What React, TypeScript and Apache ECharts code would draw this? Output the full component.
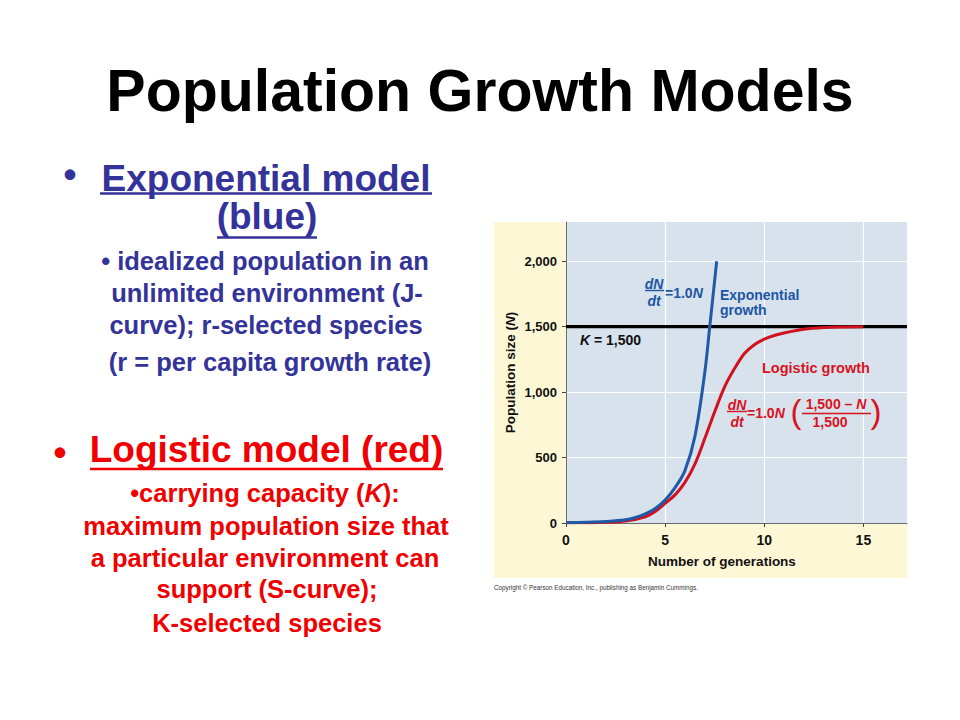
import React, { useEffect, useRef } from "react";
import * as echarts from "echarts";

// ---------- data ----------
const expT = [0, 1, 2, 3, 3.5, 4, 4.5, 5, 5.5, 6, 6.5, 7, 7.25, 7.6];
const expN = [2, 5, 11, 24, 42, 70, 110, 175, 270, 400, 660, 1150, 1500, 2000];
const logT = [0, 1, 2, 3, 4, 4.5, 5, 5.5, 6, 6.5, 7, 7.5, 8, 8.5, 9, 9.5, 10, 10.5, 11, 12, 13, 14, 15];
const logN = [1, 2, 5, 15, 48, 88, 150, 215, 310, 450, 645, 850, 1040, 1180, 1295, 1362, 1405, 1433, 1452, 1480, 1493, 1498, 1500];
const capacityK = 1500;
const xTicks = [0, 5, 10, 15];
const yTicks = [0, 500, 1000, 1500, 2000];

const titleText = "Population Growth Models";
const expHeading = ["Exponential model", "(blue)"];
const expLines = [
  "• idealized population in an",
  "unlimited environment (J-",
  "curve); r-selected species",
  "(r = per capita growth rate)",
];
const logHeading = "Logistic model (red)";
const logLines = [
  "•carrying capacity ({i|K}):",
  "maximum population size that",
  "a particular environment can",
  "support (S-curve);",
  "K-selected species",
];
const copyrightText = "Copyright © Pearson Education, Inc., publishing as Benjamin Cummings.";

const F = "'Liberation Sans', Arial, Helvetica, sans-serif";
const SLIDE_BLUE = "#333399";
const SLIDE_RED = "#f00000";
const CURVE_BLUE = "#1f5aa8";
const CURVE_RED = "#d1121e";
const LABEL_BLUE = "#1d56a4";
const LABEL_RED = "#d7131f";

function richItalic(size: number, color: string) {
  return {
    i: { fontStyle: "italic", fontWeight: "bold", fontSize: size, fontFamily: F, fill: color },
  };
}

function txt(x: number, y: number, text: string, size: number, color: string, opts: any = {}) {
  return {
    type: "text",
    x,
    y,
    z: 20,
    style: {
      text,
      fontSize: size,
      fontWeight: opts.weight || "bold",
      fontStyle: opts.style || "normal",
      fontFamily: F,
      fill: color,
      align: opts.align || "center",
      verticalAlign: "middle",
      rich: richItalic(size, color),
    },
  };
}

function hline(x1: number, x2: number, y: number, color: string, w: number) {
  return {
    type: "line",
    z: 20,
    shape: { x1, y1: y, x2, y2: y },
    style: { stroke: color, lineWidth: w },
  };
}

export default function App() {
  const ref = useRef<HTMLDivElement>(null);

  useEffect(() => {
    if (!ref.current) return;
    const chart = echarts.init(ref.current, undefined, { renderer: "svg" });

    const graphics: any[] = [
      // yellow figure panel
      {
        type: "rect",
        z: -10,
        shape: { x: 494, y: 222, width: 413, height: 356 },
        style: { fill: "#fdf7d6" },
      },
      // title
      txt(480, 91, titleText, 59, "#000000"),
      // exponential heading
      txt(70, 174, "•", 37, SLIDE_BLUE),
      txt(266, 178, expHeading[0], 37, SLIDE_BLUE),
      hline(100, 432, 193.5, SLIDE_BLUE, 2.6),
      txt(267, 216, expHeading[1], 37, SLIDE_BLUE),
      hline(217, 317, 237.5, SLIDE_BLUE, 2.6),
      txt(265, 261, expLines[0], 25.5, SLIDE_BLUE),
      txt(267, 293, expLines[1], 25.5, SLIDE_BLUE),
      txt(266, 325, expLines[2], 25.5, SLIDE_BLUE),
      txt(270, 362, expLines[3], 25.5, SLIDE_BLUE),
      // logistic heading
      txt(60, 452, "•", 37, SLIDE_RED),
      txt(266.5, 449, logHeading, 37, SLIDE_RED),
      hline(90, 443, 469, SLIDE_RED, 2.6),
      txt(265, 493, logLines[0], 25.5, SLIDE_RED),
      txt(266, 526, logLines[1], 25.5, SLIDE_RED),
      txt(265, 558, logLines[2], 25.5, SLIDE_RED),
      txt(267, 589, logLines[3], 25.5, SLIDE_RED),
      txt(267, 623, logLines[4], 25.5, SLIDE_RED),
      // chart annotations
      txt(580, 340, "{i|K} = 1,500", 14, "#111111", { align: "left" }),
      txt(654, 284, "dN", 14, LABEL_BLUE, { style: "italic" }),
      hline(645, 664, 290.5, LABEL_BLUE, 1.4),
      txt(654, 301, "dt", 14, LABEL_BLUE, { style: "italic" }),
      txt(665, 293, "=1.0{i|N}", 14, LABEL_BLUE, { align: "left" }),
      txt(720, 295, "Exponential", 14, LABEL_BLUE, { align: "left" }),
      txt(720, 309.5, "growth", 14, LABEL_BLUE, { align: "left" }),
      txt(762, 367.5, "Logistic growth", 14.5, LABEL_RED, { align: "left" }),
      txt(737, 405, "dN", 14, LABEL_RED, { style: "italic" }),
      hline(727, 747, 411.5, LABEL_RED, 1.4),
      txt(737, 422, "dt", 14, LABEL_RED, { style: "italic" }),
      txt(747, 413, "=1.0{i|N}", 14, LABEL_RED, { align: "left" }),
      txt(796, 411, "(", 33, LABEL_RED, { weight: "normal" }),
      txt(836, 404, "1,500 – {i|N}", 14, LABEL_RED),
      hline(802, 871, 413.5, LABEL_RED, 1.4),
      txt(830, 422, "1,500", 14, LABEL_RED),
      txt(876, 411, ")", 33, LABEL_RED, { weight: "normal" }),
      // copyright
      {
        type: "text",
        x: 494,
        y: 587,
        z: 20,
        style: {
          text: copyrightText,
          fontSize: 6.3,
          fontFamily: F,
          fill: "#333333",
          align: "left",
          verticalAlign: "middle",
        },
      },
    ];

    const option: any = {
      animation: false,
      backgroundColor: "#ffffff",
      grid: {
        left: 566,
        top: 222,
        width: 341,
        height: 301,
        show: true,
        backgroundColor: "#d7e2ec",
        borderWidth: 0,
      },
      xAxis: {
        type: "value",
        min: 0,
        max: 17.2,
        interval: 5,
        name: "Number of generations",
        nameLocation: "middle",
        nameGap: 31,
        nameTextStyle: {
          fontSize: 13.5,
          fontWeight: "bold",
          fontFamily: F,
          color: "#111111",
          padding: [0, 29, 0, 0],
        },
        axisLine: { show: true, onZero: false, lineStyle: { color: "#6b6b6b", width: 1 } },
        axisTick: { show: true, length: 4, customValues: xTicks, lineStyle: { color: "#444444" } },
        axisLabel: {
          customValues: xTicks,
          fontSize: 14,
          fontWeight: "bold",
          fontFamily: F,
          color: "#111111",
          margin: 10,
        },
        splitLine: { show: true, lineStyle: { color: "#ffffff", width: 1.2 } },
      },
      yAxis: {
        type: "value",
        min: 0,
        max: 2300,
        interval: 500,
        name: "Population size ({i|N})",
        nameLocation: "middle",
        nameGap: 49,
        nameTextStyle: {
          fontSize: 13.5,
          fontWeight: "bold",
          fontFamily: F,
          color: "#111111",
          rich: { i: { fontStyle: "italic", fontWeight: "bold", fontSize: 13.5, fontFamily: F, color: "#111111" } },
        },
        axisLine: { show: true, onZero: false, lineStyle: { color: "#6b6b6b", width: 1 } },
        axisTick: { show: true, length: 4, customValues: yTicks, lineStyle: { color: "#444444" } },
        axisLabel: {
          customValues: yTicks,
          fontSize: 13,
          fontWeight: "bold",
          fontFamily: F,
          color: "#111111",
          margin: 9,
          formatter: (v: number) => v.toLocaleString("en-US"),
        },
        splitLine: { show: true, lineStyle: { color: "#ffffff", width: 1.2 } },
      },
      series: [
        {
          name: "K",
          type: "line",
          data: [[0, capacityK], [17.2, capacityK]],
          showSymbol: false,
          lineStyle: { color: "#000000", width: 3.2 },
          z: 2,
          silent: true,
        },
        {
          name: "Logistic growth",
          type: "line",
          data: logT.map((t, i) => [t, logN[i]]),
          smooth: 0.35,
          showSymbol: false,
          lineStyle: { color: CURVE_RED, width: 3 },
          z: 3,
        },
        {
          name: "Exponential growth",
          type: "line",
          data: expT.map((t, i) => [t, expN[i]]),
          smooth: 0.35,
          showSymbol: false,
          lineStyle: { color: CURVE_BLUE, width: 3 },
          z: 4,
        },
      ],
      graphic: { elements: graphics },
    };

    chart.setOption(option);
    return () => chart.dispose();
  }, []);

  return (
    <div
      ref={ref}
      style={{ position: "absolute", left: 0, top: 0, width: 960, height: 720, background: "#ffffff" }}
    />
  );
}
